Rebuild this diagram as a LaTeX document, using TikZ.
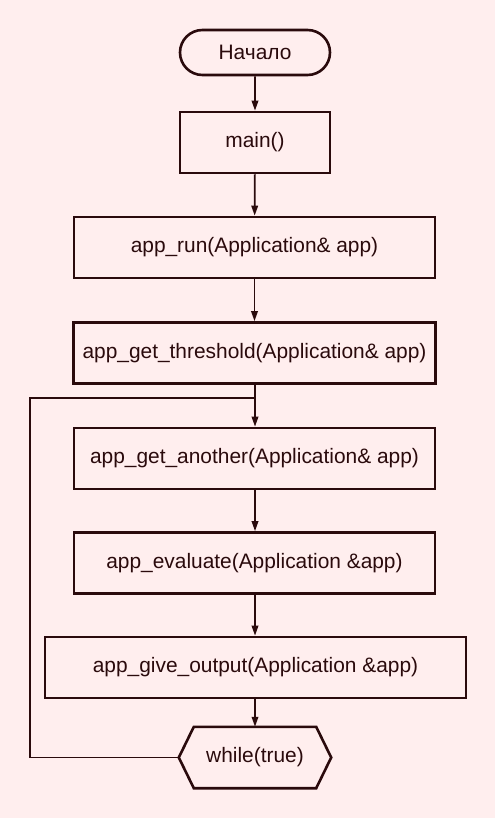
\documentclass[tikz,border=0pt]{standalone}
\usepackage{fontspec}
\setmainfont{Liberation Sans}
\usetikzlibrary{arrows.meta,shapes.misc}
\definecolor{bgc}{RGB}{255,238,238}
\definecolor{lnc}{RGB}{42,10,12}
\tikzset{
  x=1pt,y=-1pt,
  base/.style={draw=lnc,line width=2.6pt,text=lnc,inner sep=0pt,
    font=\fontsize{20.9}{24}\selectfont},
  procbox/.style={base,rectangle,minimum height=61pt},
  termbox/.style={base,rounded rectangle,minimum width=150pt,minimum height=45pt},
  hexnode/.style={inner sep=0pt,minimum width=152pt,minimum height=61pt,text=lnc,
    font=\fontsize{20.9}{24}\selectfont},
  conn/.style={draw=lnc,line width=1.8pt},
  arr/.style={conn,-{Triangle[length=10pt,width=6.5pt]}},
}
\begin{document}
\begin{tikzpicture}
\useasboundingbox (0,0) rectangle (495,818);
\fill[bgc] (0,0) rectangle (495,818);
\node[termbox] (start) at (255,52.5) {Начало};
\node[procbox,minimum width=150pt] (main) at (255,142.5) {main()};
\node[procbox,minimum width=361pt] (run) at (254.5,247.5) {app\_run(Application\& app)};
\node[procbox,minimum width=362pt] (thr) at (254.5,353) {app\_get\_threshold(Application\& app)};
\node[procbox,minimum width=361pt] (ano) at (254.5,458.5) {app\_get\_another(Application\& app)};
\node[procbox,minimum width=361pt] (eva) at (254.5,563) {app\_evaluate(Application \&app)};
\node[procbox,minimum width=421pt] (out) at (255.5,667.5) {app\_give\_output(Application \&app)};
\node[hexnode] (wh) at (255,757.5) {while(true)};
\draw[draw=lnc,line width=2.6pt,line join=miter]
  (wh.west) -- ([xshift=15pt]wh.north west) -- ([xshift=-15pt]wh.north east)
  -- (wh.east) -- ([xshift=-15pt]wh.south east) -- ([xshift=15pt]wh.south west) -- cycle;
\coordinate (lbot) at (30,757.5);
\coordinate (ltop) at (30,398);
\coordinate (join) at (255,398);
\draw[arr] (start) -- (main);
\draw[arr] (main) -- (run);
\draw[arr] (run) -- (thr);
\draw[arr] (thr.south -| join) -- (ano.north -| join);
\draw[arr] (ano.south -| join) -- (eva.north -| join);
\draw[arr] (eva.south -| join) -- (out.north -| join);
\draw[arr] (out.south -| join) -- (wh.north -| join);
\draw[conn] (wh.west) -- (lbot) -- (ltop) -- (join);
\end{tikzpicture}
\end{document}
